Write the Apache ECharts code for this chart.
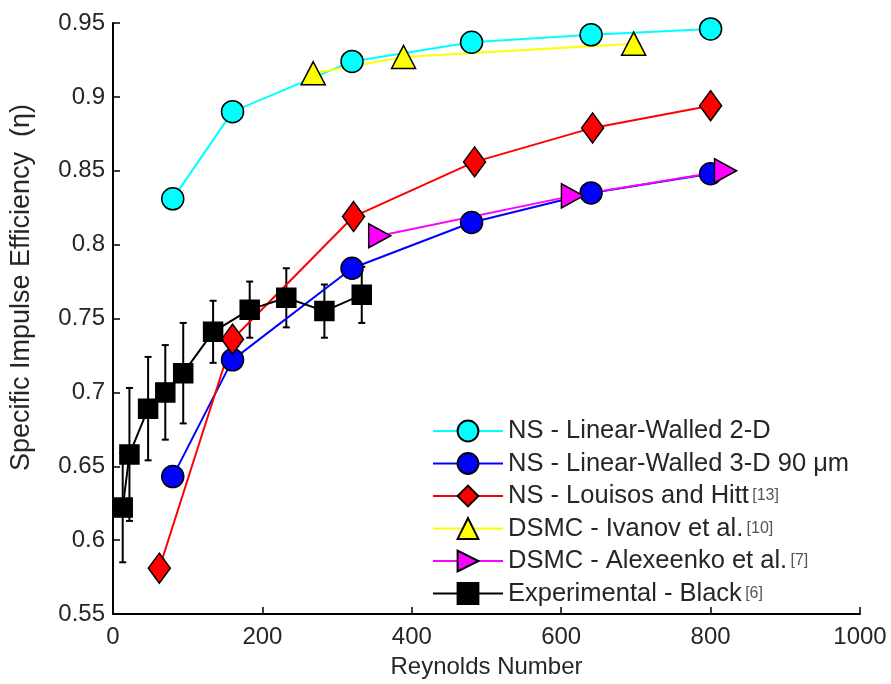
<!DOCTYPE html>
<html>
<head>
<meta charset="utf-8">
<script src="https://cdn.jsdelivr.net/npm/echarts@6/dist/echarts.min.js"></script>
<style>
  html, body { margin: 0; padding: 0; background: #fff; }
  #chart { width: 891px; height: 684px; }
</style>
</head>
<body>
<div id="chart"></div>
<script>
// values
const reNS = [80, 160, 320, 480, 640, 800];
const eta2D = [0.831, 0.890, 0.924, 0.937, 0.942, 0.946];
const eta3D = [0.643, 0.722, 0.784, 0.815, 0.835, 0.848];

const reLouisos = [62, 160, 322, 484, 642, 800];
const etaLouisos = [0.581, 0.736, 0.819, 0.856, 0.879, 0.894];

const reIvanov = [268, 389, 697];
const etaIvanov = [0.916, 0.927, 0.936];

const reAlexeenko = [357, 615, 820];
const etaAlexeenko = [0.806, 0.833, 0.850];

const reBlack = [13, 22, 47, 70, 94, 134, 183, 232, 283, 333];
const etaBlack = [0.622, 0.658, 0.689, 0.700, 0.713, 0.741, 0.756, 0.764, 0.755, 0.766];
const errBlack = [0.037, 0.045, 0.035, 0.032, 0.034, 0.021, 0.019, 0.020, 0.018, 0.019];

const seriesNames = [
  "NS - Linear-Walled 2-D",
  "NS - Linear-Walled 3-D 90 \u03bcm",
  "NS - Louisos and Hitt",
  "DSMC - Ivanov et al.",
  "DSMC - Alexeenko et al.",
  "Experimental - Black"
];
const refTags = ["", "", "[13]", "[10]", "[7]", "[6]"];

const zip = (xs, ys) => xs.map((x, i) => [x, ys[i]]);
const font = "'Liberation Sans', Arial, sans-serif";

function lineSeries(name, data, color, symbol, size, extra) {
  return Object.assign({
    name: name,
    type: "line",
    data: data,
    symbol: symbol,
    symbolSize: size,
    lineStyle: { color: color, width: 2 },
    itemStyle: { color: color, borderColor: "#000", borderWidth: 1.5 },
    emphasis: { disabled: true },
    animation: false
  }, extra || {});
}

const chart = echarts.init(document.getElementById("chart"));

const option = {
  backgroundColor: "#fff",
  textStyle: { fontFamily: font },
  grid: { left: 109, right: 31, top: 23, bottom: 66 },
  xAxis: {
    type: "value",
    min: 0,
    max: 1000,
    interval: 200,
    name: "Reynolds Number",
    nameLocation: "middle",
    nameGap: 41,
    nameTextStyle: { fontSize: 24, color: "#262626" },
    axisLine: { onZero: false, lineStyle: { color: "#000", width: 2 } },
    axisTick: { inside: true, length: 7, lineStyle: { color: "#000", width: 1.5 } },
    axisLabel: { fontSize: 24, color: "#262626", margin: 11, formatter: v => String(v) },
    splitLine: { show: false }
  },
  yAxis: {
    type: "value",
    min: 0.55,
    max: 0.95,
    interval: 0.05,
    name: "Specific Impulse Efficiency  (\u03b7)",
    nameLocation: "middle",
    nameGap: 78,
    nameTextStyle: { fontSize: 27, color: "#262626", padding: [0, 0, 0, 62] },
    axisLine: { lineStyle: { color: "#000", width: 2 } },
    axisTick: { inside: true, length: 7, lineStyle: { color: "#000", width: 1.5 } },
    axisLabel: { fontSize: 24, color: "#262626", margin: 8 },
    splitLine: { show: false }
  },
  legend: {
    orient: "vertical",
    left: 432,
    top: 418,
    padding: 0,
    itemWidth: 70,
    itemHeight: 26,
    itemGap: 6.5,
    data: seriesNames,
    formatter: function(name) {
      const tag = refTags[seriesNames.indexOf(name)];
      return tag ? "{a|" + name + "} {r|" + tag + "}" : "{a|" + name + "}";
    },
    textStyle: {
      rich: {
        a: { fontSize: 25.5, color: "#262626", fontFamily: font, lineHeight: 26 },
        r: { fontSize: 16, color: "#555", fontFamily: font }
      }
    }
  },
  series: [
    lineSeries(seriesNames[0], zip(reNS, eta2D), "#00ffff", "circle", 22),
    lineSeries(seriesNames[1], zip(reNS, eta3D), "#0000ff", "circle", 22),
    lineSeries(seriesNames[2], zip(reLouisos, etaLouisos), "#ff0000", "diamond", [22, 30]),
    lineSeries(seriesNames[3], zip(reIvanov, etaIvanov), "#ffff00", "triangle", [24, 23]),
    lineSeries(seriesNames[4], zip(reAlexeenko, etaAlexeenko), "#ff00ff", "triangle", [24, 22], { symbolRotate: -90 }),
    {
      name: "errorBars",
      type: "custom",
      data: reBlack.map((x, i) => [x, etaBlack[i] - errBlack[i], etaBlack[i] + errBlack[i]]),
      renderItem: function(params, api) {
        const top = api.coord([api.value(0), api.value(2)]);
        const bot = api.coord([api.value(0), api.value(1)]);
        const cap = 3.5;
        const style = { stroke: "#000", lineWidth: 2 };
        return {
          type: "group",
          children: [
            { type: "line", shape: { x1: top[0], y1: top[1], x2: bot[0], y2: bot[1] }, style: style },
            { type: "line", shape: { x1: top[0] - cap, y1: top[1], x2: top[0] + cap, y2: top[1] }, style: style },
            { type: "line", shape: { x1: bot[0] - cap, y1: bot[1], x2: bot[0] + cap, y2: bot[1] }, style: style }
          ]
        };
      },
      z: 3,
      animation: false,
      silent: true
    },
    lineSeries(seriesNames[5], zip(reBlack, etaBlack), "#000000", "rect", 19, { z: 4 })
  ]
};

chart.setOption(option);
</script>
</body>
</html>
